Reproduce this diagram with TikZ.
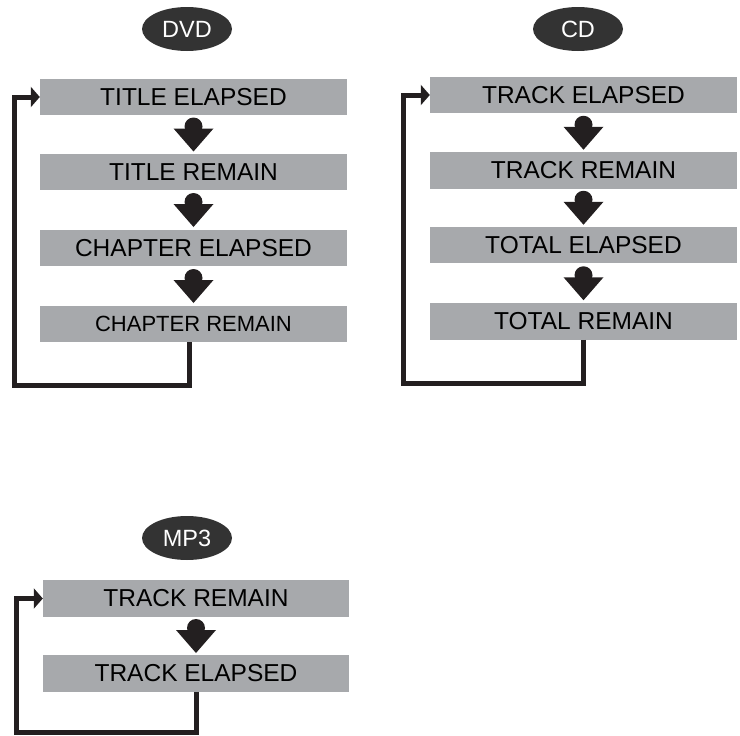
\documentclass[tikz,border=0pt]{standalone}
\usepackage{fontspec}
\setmainfont{Liberation Sans}
\usetikzlibrary{arrows.meta,calc,shapes.geometric}
\definecolor{boxgray}{RGB}{167,169,172}
\definecolor{tagdark}{RGB}{51,51,51}
\definecolor{linedark}{RGB}{35,31,32}

\begin{document}
\begin{tikzpicture}[x=1pt, y=-1pt,
  modebox/.style={fill=boxgray, minimum width=307pt, minimum height=36.5pt, inner sep=0pt, font=\fontsize{24.5}{28}\selectfont},
  tag/.style={ellipse, fill=tagdark, text=white, minimum width=90pt, minimum height=44pt, inner sep=0pt, font=\fontsize{23.5}{28}\selectfont},
  loopline/.style={line width=5pt, draw=linedark, -{Triangle[length=9pt,width=20pt]}},
  downmark/.pic={\fill[linedark] (0,-8) circle (9pt); \fill[linedark] (-20,-6) -- (20,-6) -- (0,17) -- cycle;}
]
\useasboundingbox (0,0) rectangle (740,736);

% DVD
\node[tag] (dvd) at (187, 29) {DVD};
\node[modebox] (d1) at (193.5, 97) {TITLE ELAPSED};
\node[modebox] (d2) at (193.5, 172) {TITLE REMAIN};
\node[modebox] (d3) at (193.5, 248) {CHAPTER ELAPSED};
\node[modebox, font=\fontsize{22}{26}\selectfont] (d4) at (193.5, 324) {CHAPTER REMAIN};
\pic at ($(d1.south)!0.5!(d2.north)$) {downmark};
\pic at ($(d2.south)!0.5!(d3.north)$) {downmark};
\pic at ($(d3.south)!0.5!(d4.north)$) {downmark};
\coordinate (dvdcorner) at (14.5, 385);
\draw[loopline] ([xshift=-4.5pt]d4.south) |- (dvdcorner) |- (d1.west);

% CD
\node[tag] (cd) at (578, 29) {CD};
\node[modebox] (c1) at (583.5, 95) {TRACK ELAPSED};
\node[modebox] (c2) at (583.5, 170.5) {TRACK REMAIN};
\node[modebox] (c3) at (583.5, 245) {TOTAL ELAPSED};
\node[modebox] (c4) at (583.5, 321.5) {TOTAL REMAIN};
\pic at ($(c1.south)!0.5!(c2.north)$) {downmark};
\pic at ($(c2.south)!0.5!(c3.north)$) {downmark};
\pic at ($(c3.south)!0.5!(c4.north)$) {downmark};
\coordinate (cdcorner) at (403.5, 383);
\draw[loopline] (c4.south) |- (cdcorner) |- (c1.west);

% MP3
\node[tag] (mp3) at (187, 538) {MP3};
\node[modebox, minimum width=306pt] (m1) at (196, 598.5) {TRACK REMAIN};
\node[modebox, minimum width=306pt] (m2) at (196, 673.5) {TRACK ELAPSED};
\pic at ($(m1.south)!0.5!(m2.north)$) {downmark};
\coordinate (mp3corner) at (16.5, 732.5);
\draw[loopline] ([xshift=0.5pt]m2.south) |- (mp3corner) |- (m1.west);

\end{tikzpicture}
\end{document}
